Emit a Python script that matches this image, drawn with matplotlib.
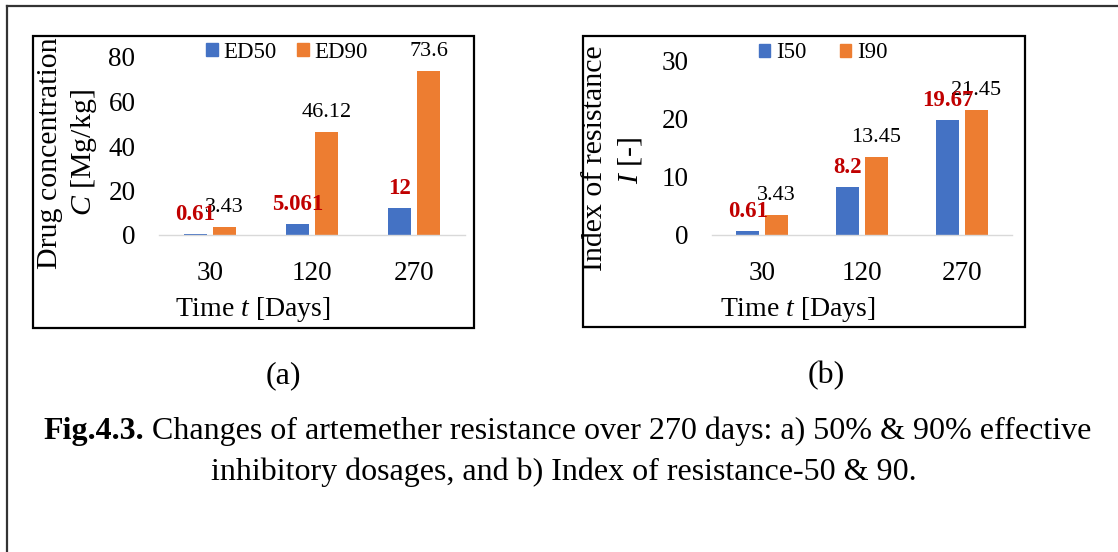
import matplotlib
matplotlib.use("Agg")
import matplotlib.pyplot as plt
from matplotlib.patches import Rectangle, Patch
from matplotlib.lines import Line2D

plt.rcParams['font.family'] = ['Liberation Serif', 'DejaVu Serif']
plt.rcParams['mathtext.fontset'] = 'custom'
plt.rcParams['mathtext.rm'] = 'Liberation Serif'
plt.rcParams['mathtext.it'] = 'Liberation Serif:italic'
plt.rcParams['mathtext.bf'] = 'Liberation Serif:bold'

# ---- data ----
days = ["30", "120", "270"]
ed50 = [0.61, 5.061, 12]
ed90 = [3.43, 46.12, 73.6]
ed50_labels = ["0.61", "5.061", "12"]
ed90_labels = ["3.43", "46.12", "73.6"]
i50 = [0.61, 8.2, 19.67]
i90 = [3.43, 13.45, 21.45]
i50_labels = ["0.61", "8.2", "19.67"]
i90_labels = ["3.43", "13.45", "21.45"]
yticks_a = [0, 20, 40, 60, 80]
yticks_b = [0, 10, 20, 30]

BLUE = "#4472C4"
ORANGE = "#ED7D31"
RED = "#C00000"

W, H = 1118, 552
fig = plt.figure(figsize=(W / 100, H / 100), dpi=100)


def fx(px):
    return px / W


def fy(py):
    return 1 - py / H


# outer frame (top and left lines)
fig.add_artist(Line2D([fx(7), 1.0], [fy(6), fy(6)], color="#333333", lw=1.6, transform=fig.transFigure))
fig.add_artist(Line2D([fx(7), fx(7)], [fy(6), 0.0], color="#333333", lw=1.6, transform=fig.transFigure))

# panel boxes
for (x0, y0, x1, y1) in [(33, 36, 474, 328), (583, 36, 1025, 327)]:
    fig.add_artist(Rectangle((fx(x0), fy(y1)), fx(x1 - x0), (y1 - y0) / H,
                             fill=False, ec="black", lw=1.6, transform=fig.transFigure))


def make_panel(left_px, right_px, top_px, s1, s2, l1, l2, ymax, yticks, leg_names, leg_center, colspace):
    ax = fig.add_axes([fx(left_px), fy(235), fx(right_px - left_px), (235 - top_px) / H])
    x = list(range(len(days)))
    off, w = 0.143, 0.225
    xa = [v - off for v in x]
    xb = [v + off for v in x]
    ax.bar(xa, s1, width=w, color=BLUE, zorder=2)
    ax.bar(xb, s2, width=w, color=ORANGE, zorder=2)
    for xi, v, t in zip(xb, s2, l2):
        ax.annotate(t, (xi, v), xytext=(0, 14), textcoords="offset points",
                    ha="center", va="center", fontsize=16, color="black", zorder=3)
    for xi, v, t in zip(xa, s1, l1):
        ax.annotate(t, (xi, v), xytext=(0, 14), textcoords="offset points",
                    ha="center", va="center", fontsize=16.5, color=RED, fontweight="bold", zorder=4)
    ax.set_xlim(-0.5, 2.5)
    ax.set_ylim(0, ymax)
    ax.set_yticks(yticks)
    ax.set_xticks(x)
    ax.set_xticklabels(days)
    ax.tick_params(axis="both", length=0, labelsize=19.5)
    ax.tick_params(axis="x", pad=19)
    ax.tick_params(axis="y", pad=17)
    for s in ["top", "right", "left"]:
        ax.spines[s].set_visible(False)
    ax.spines["bottom"].set_color("#D9D9D9")
    ax.spines["bottom"].set_linewidth(1.0)
    ax.patch.set_alpha(0)
    handles = [Patch(color=BLUE), Patch(color=ORANGE)]
    fig.legend(handles, leg_names, loc="center", bbox_to_anchor=(fx(leg_center[0]), fy(leg_center[1])),
               ncol=2, frameon=False, fontsize=16.5, handlelength=0.5, handleheight=0.5,
               handletextpad=0.25, columnspacing=colspace, borderpad=0, borderaxespad=0)
    return ax


make_panel(159, 465, 57, ed50, ed90, ed50_labels, ed90_labels, 80, yticks_a,
           ["ED50", "ED90"], (287, 52), 0.9)
make_panel(712, 1012, 60, i50, i90, i50_labels, i90_labels, 30, yticks_b,
           ["I50", "I90"], (823, 53), 1.45)

# axis titles
fig.text(fx(50), fy(153), "Drug concentration", rotation=90, ha="center", va="center", fontsize=21.5)
fig.text(fx(84), fy(153), "$C$ [Mg/kg]", rotation=90, ha="center", va="center", fontsize=21.5)
fig.text(fx(253), fy(309), "Time $t$ [Days]", ha="center", va="center", fontsize=20)

fig.text(fx(595), fy(158), "Index of resistance", rotation=90, ha="center", va="center", fontsize=21.5)
fig.text(fx(630), fy(160), "$I$ [-]", rotation=90, ha="center", va="center", fontsize=21.5)
fig.text(fx(798), fy(309), "Time $t$ [Days]", ha="center", va="center", fontsize=20)

# captions
fig.text(fx(283), fy(383), "(a)", ha="center", va="baseline", fontsize=23)
fig.text(fx(826), fy(383), "(b)", ha="center", va="baseline", fontsize=23)
renderer = fig.canvas.get_renderer()
bold = fig.text(fx(43), fy(439), "Fig.4.3.", ha="left", va="baseline", fontsize=23, fontweight="bold")
bb = bold.get_window_extent(renderer=renderer)
fig.text(bb.x1 / W, fy(439),
         " Changes of artemether resistance over 270 days: a) 50% & 90% effective",
         ha="left", va="baseline", fontsize=23)
fig.text(fx(564), fy(480), "inhibitory dosages, and b) Index of resistance-50 & 90.",
         ha="center", va="baseline", fontsize=23)

fig.savefig("out.png", dpi=100)
